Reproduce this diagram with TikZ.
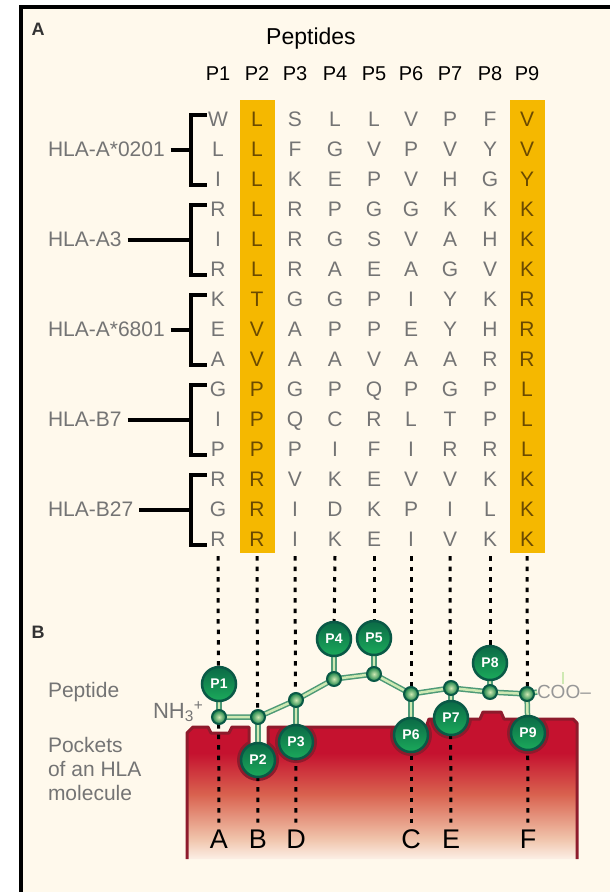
\documentclass[tikz,border=0pt]{standalone}
\usepackage{fontspec}
\setmainfont{Liberation Sans}
\usetikzlibrary{positioning, backgrounds}

\definecolor{paper}{HTML}{FFF9EC}
\definecolor{anchorband}{HTML}{F5B800}
\definecolor{resgrey}{HTML}{747474}
\definecolor{anchorres}{HTML}{6B4A00}
\definecolor{balldark}{HTML}{0B6A46}
\definecolor{balllight}{HTML}{1BAA5B}
\definecolor{ballrim}{HTML}{0A5946}
\definecolor{chainlight}{HTML}{CFE9B3}
\definecolor{chaindark}{HTML}{4E9A77}
\definecolor{pocketred}{HTML}{C5122F}
\definecolor{pocketmid}{HTML}{D9624F}
\definecolor{pocketlow}{HTML}{F0C3AA}
\definecolor{pocketpale}{HTML}{FCEFE6}
\definecolor{pocketrim}{HTML}{8E1B2C}

% red to pale fade of the HLA groove
\pgfdeclareverticalshading{pocketshade}{100bp}{color(0bp)=(pocketpale); color(25bp)=(pocketpale); color(32bp)=(pocketlow); color(47bp)=(pocketmid); color(61bp)=(pocketred); color(100bp)=(pocketred)}

% outline of the HLA molecule surface, open at the bottom
\newcommand{\hlasurface}{(187,859) -- (187,733) -- (193,727) -- (208,727) -- (211,733) -- (229,733) -- (232,727) -- (249,727) -- (249,748) -- (268,748) -- (268,727) -- (426,727) -- (429,719) -- (480,719) -- (483,712) -- (501,712) -- (504,719) -- (573,719) -- (577,723) -- (577,859)}

\tikzset{
x=1pt, y=-1pt, % one unit is one pixel, y grows downwards
every node/.style={inner sep=0pt, outer sep=0pt},
res/.style={text=resgrey, font=\fontsize{21}{21}\selectfont, text height=15pt, text depth=0pt}, % residue letters
anchored/.style={res, text=anchorres}, % residues in the anchor columns
poshead/.style={font=\fontsize{20}{20}\selectfont, text height=14pt, text depth=0pt}, % P1 ... P9
allele/.style={text=resgrey, font=\fontsize{21}{21}\selectfont, anchor=base west},
bracket/.style={line width=3.2pt},
caption/.style={text=resgrey, font=\fontsize{21}{24}\selectfont, align=left},
sidechain/.style={circle, minimum size=34pt, draw=ballrim, line width=2.5pt, top color=balldark, bottom color=balllight, text=white, font=\bfseries\fontsize{14}{14}\selectfont},
calpha/.style={circle, minimum size=14pt, draw=ballrim, line width=2pt, inner color=chainlight, outer color=balllight!75!black},
backbone/.style={draw=chaindark, line width=1.5pt, double=chainlight, double distance=2.5pt, line join=round},
guide/.style={line width=3pt, dash pattern=on 4.5pt off 6pt, shorten >=7pt},
pocketlabel/.style={font=\fontsize{27}{27}\selectfont, text height=19pt, text depth=0pt},
panel/.style={text=black!80, font=\bfseries\fontsize{18}{18}\selectfont},
}

\begin{document}
\begin{tikzpicture}
\useasboundingbox (0,0) rectangle (610,892);

\node[panel] (panelA) at (38,29) {A};
\node[font=\fontsize{23}{23}\selectfont, anchor=base] (title) at (311,44) {Peptides};

\foreach \x [count=\i] in {218,257,295,335,374,411,450,490,527} {
  \node[poshead] (h\i) at (\x,73) {P\i};
  \coordinate (top\i) at (\x,556);
}

\foreach \seq [count=\r] in {{W,L,S,L,L,V,P,F,V},{L,L,F,G,V,P,V,Y,V},{I,L,K,E,P,V,H,G,Y},
    {R,L,R,P,G,G,K,K,K},{I,L,R,G,S,V,A,H,K},{R,L,R,A,E,A,G,V,K},
    {K,T,G,G,P,I,Y,K,R},{E,V,A,P,P,E,Y,H,R},{A,V,A,A,V,A,A,R,R},
    {G,P,G,P,Q,P,G,P,L},{I,P,Q,C,R,L,T,P,L},{P,P,P,I,F,I,R,R,L},
    {R,R,V,K,E,V,V,K,K},{G,R,I,D,K,P,I,L,K},{R,R,I,K,E,I,V,K,K}} {
  \foreach \aa [count=\c] in \seq {
    \ifnum\c=2 \def\sty{anchored}\else\ifnum\c=9 \def\sty{anchored}\else\def\sty{res}\fi\fi
    \path (h\c) ++(0,{16+30*\r}) node[\sty] (s-\r-\c) {\aa};
  }
}

\foreach \lab [count=\g] in {HLA-A*0201,HLA-A3,HLA-A*6801,HLA-B7,HLA-B27} {
  \coordinate (brk\g) at (191,{60+90*\g});
  \node[allele] (allele\g) at (48,{66.5+90*\g}) {\lab};
  \draw[bracket] (207,{25+90*\g}) -- (191,{25+90*\g}) -- (191,{95+90*\g}) -- (207,{95+90*\g});
  \draw[bracket, shorten <=6pt] (allele\g.east |- brk\g) -- (brk\g);
}

\node[panel] (panelB) at (38,632) {B};
\node[caption, anchor=base west] (peplabel) at (48,697) {Peptide};
\node[caption, anchor=north west] (pocketcap) at (48,737) {Pockets\\of an HLA\\molecule};

\node[calpha] (a1) at (219,717) {};
\node[calpha] (a2) at (258,717) {};
\node[calpha] (a3) at (296,700) {};
\node[calpha] (a4) at (334,679) {};
\node[calpha] (a5) at (374,674) {};
\node[calpha] (a6) at (411,694) {};
\node[calpha] (a7) at (451,688) {};
\node[calpha] (a8) at (490,692) {};
\node[calpha] (a9) at (527,694) {};

\node[sidechain] (p1) at (219,684) {P1};
\node[sidechain] (p2) at (258,760) {P2};
\node[sidechain] (p3) at (296,742) {P3};
\node[sidechain] (p4) at (334,639) {P4};
\node[sidechain] (p5) at (374,638) {P5};
\node[sidechain] (p6) at (411,735) {P6};
\node[sidechain] (p7) at (451,718) {P7};
\node[sidechain] (p8) at (490,663) {P8};
\node[sidechain] (p9) at (528,733) {P9};

\node[caption, font=\fontsize{22}{22}\selectfont, anchor=base west] (nterm) at (153,718) {NH\textsubscript{3}\textsuperscript{+}};
\node[caption, text=resgrey!75, font=\fontsize{19}{19}\selectfont, anchor=west] (cterm) at (537,692) {COO–};
\coordinate (tickA) at (563,672);
\coordinate (tickB) at (563,684);

\node[pocketlabel] (pA) at (219,839) {A};
\node[pocketlabel] (pB) at (258,839) {B};
\node[pocketlabel] (pD) at (296,839) {D};
\node[pocketlabel] (pC) at (411,839) {C};
\node[pocketlabel] (pE) at (451,839) {E};
\node[pocketlabel] (pF) at (528,839) {F};

\begin{scope}[on background layer]
  \fill[white] (0,0) rectangle (610,892);
  \fill[black] (19,5) rectangle (610,892);
  \fill[paper] (23,8.5) rectangle (610,892);
  \fill[anchorband] (239.5,100) rectangle (274.5,553);
  \fill[anchorband] (509.5,100) rectangle (544.5,553);

  \shade[shading=pocketshade] \hlasurface -- cycle;
  \begin{scope}
    \clip \hlasurface -- cycle;
    \foreach \b in {p2,p3,p6,p7,p9}
      \fill[pocketrim] (\b) circle[radius=21pt];
  \end{scope}
  \draw[pocketrim, line width=3pt, line join=round] \hlasurface;

  \foreach \i/\e/\a in {1/pA/north,2/pB/north,3/pD/north,4/p4/center,5/p5/center,6/pC/north,7/pE/north,8/p8/center,9/pF/north}
    \draw[guide] (top\i) -- (\e.\a);

  \draw[backbone] (a1) -- (a2) -- (a3) -- (a4) -- (a5) -- (a6) -- (a7) -- (a8) -- (a9) -- (cterm.west);
  \foreach \i in {1,...,9}
    \draw[backbone] (p\i) -- (a\i);
  \draw[chainlight, line width=2pt] (tickA) -- (tickB);
\end{scope}
\end{tikzpicture}
\end{document}
